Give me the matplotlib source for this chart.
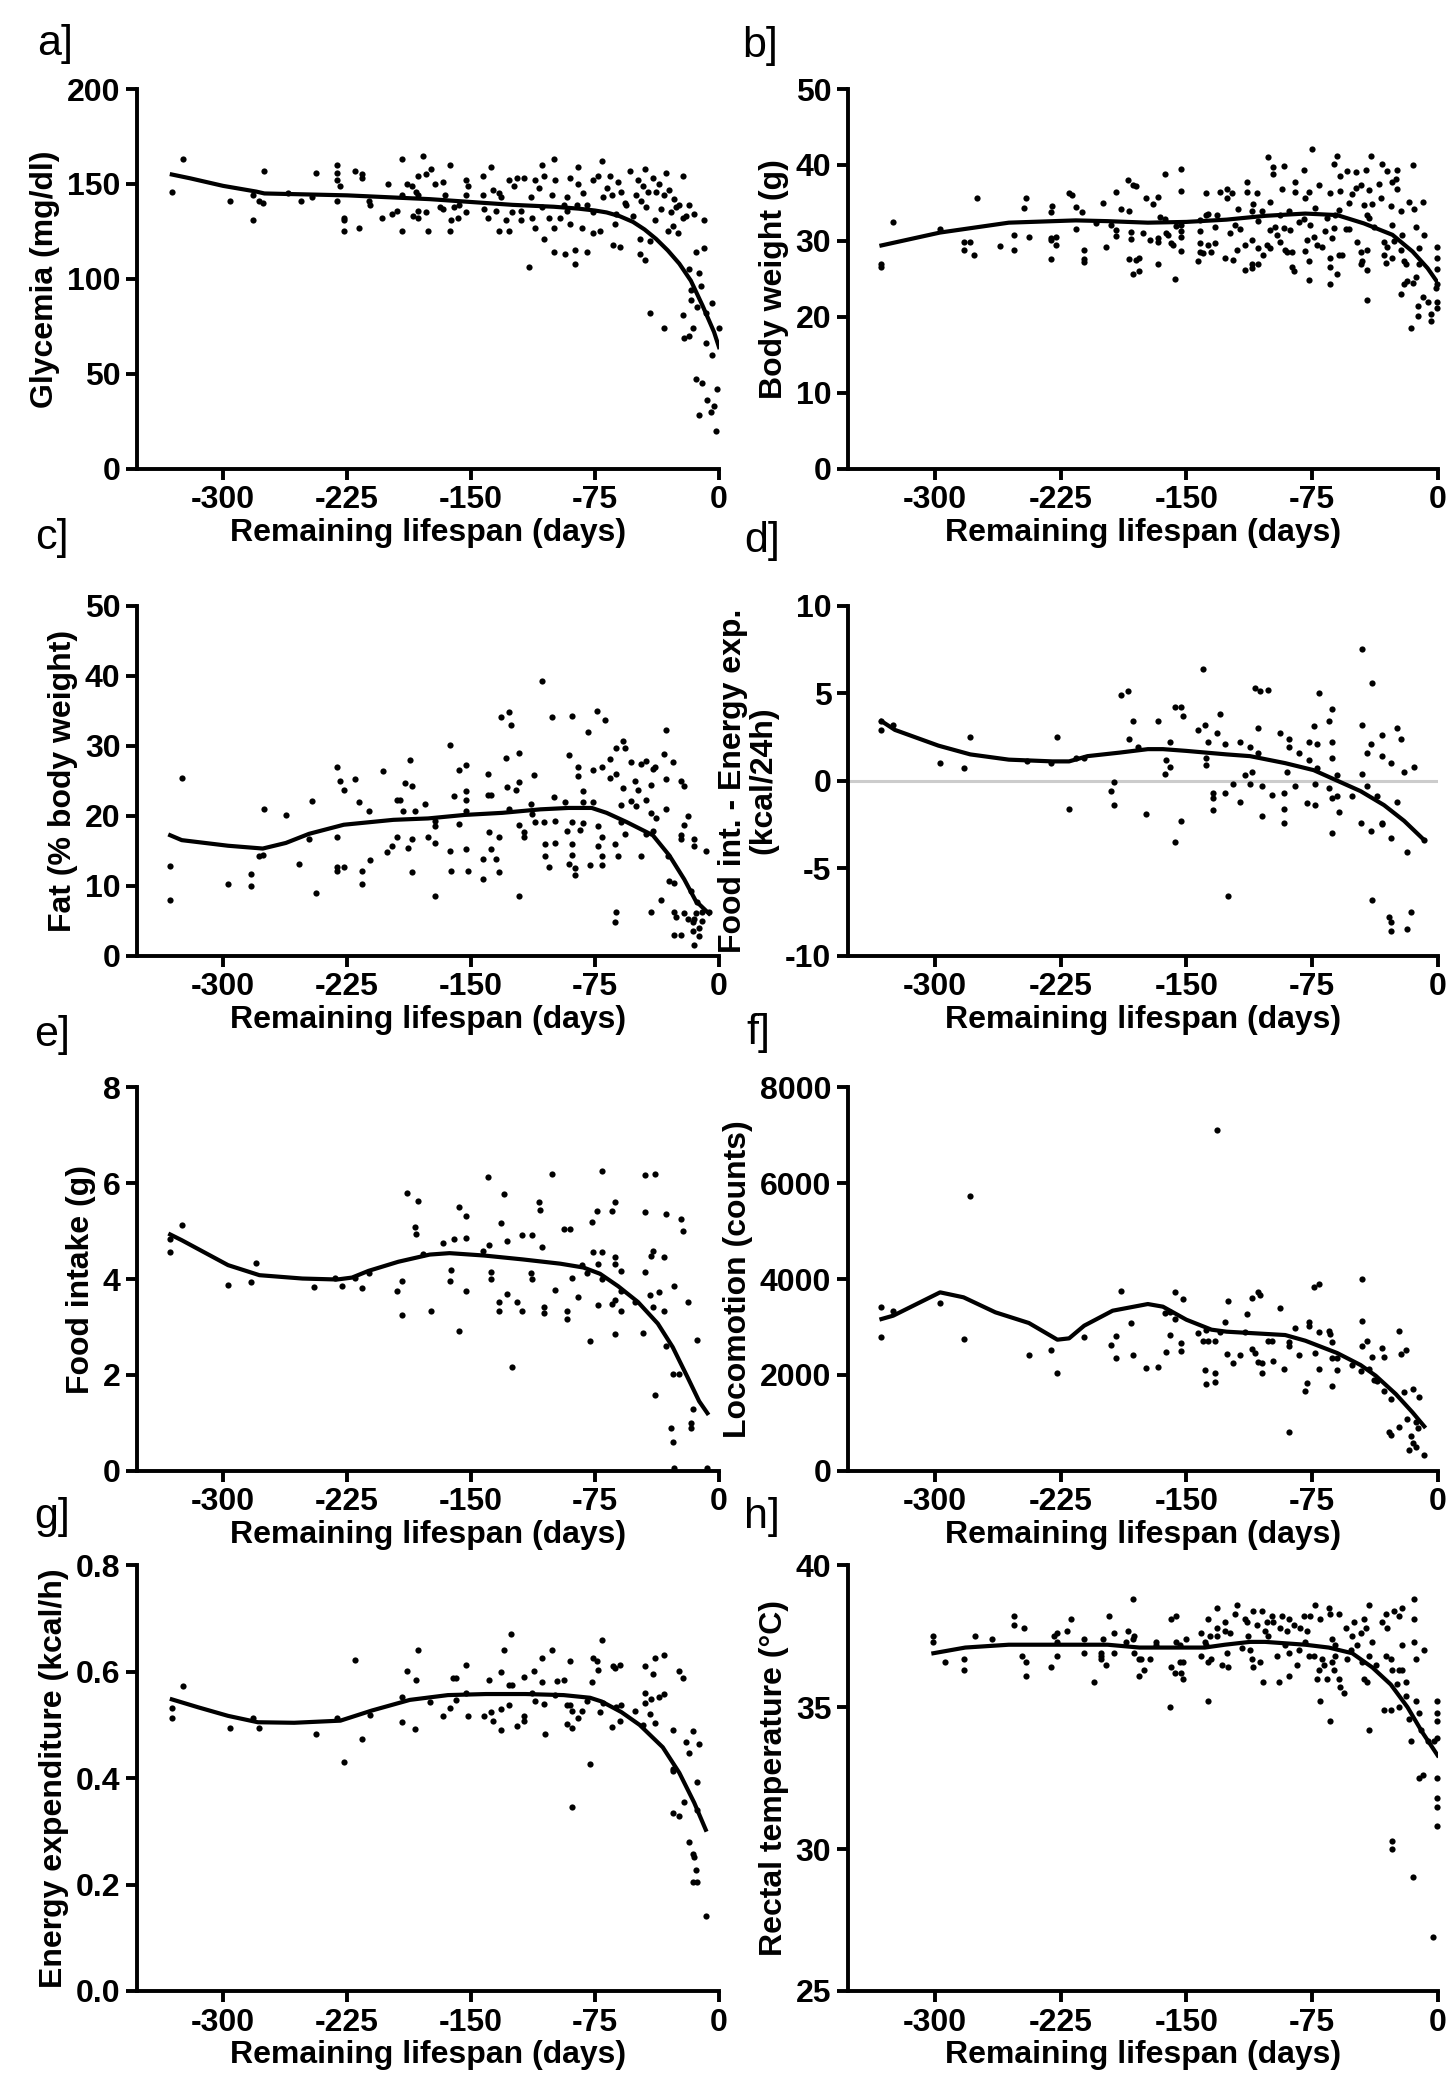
import matplotlib
matplotlib.use("Agg")
import matplotlib.pyplot as plt

plt.rcParams['font.family'] = ['Liberation Sans', 'DejaVu Sans']
plt.rcParams['font.weight'] = 'bold'
plt.rcParams['axes.labelweight'] = 'bold'
plt.rcParams['axes.unicode_minus'] = False

# x ticks shared by all panels
day_ticks = [-300, -225, -150, -75, 0]

# a] glycemia
glyc_pts = [(-331,146),(-324,163),(-296,141),(-282,144),(-282,131),(-278,141),(-276,140),(-275,157),(-261,145),(-253,141),
    (-246,143),(-244,156),(-231,160),(-231,156),(-231,152),(-229,149),(-231,141),(-227,132),(-227,131),(-227,125),(-220,157),
    (-218,127),(-216,155),(-216,153),(-212,141),(-211,139),(-204,132),(-200,150),(-198,134),(-195,136),(-192,163),(-192,144),
    (-192,125),(-189,150),(-186,149),(-185,133),(-183,146),(-182,154),(-182,144),(-182,136),(-182,132),(-179,165),(-177,155),
    (-177,135),(-176,125),(-174,158),(-172,150),(-169,138),(-167,151),(-167,137),(-166,144),(-163,160),(-163,125),(-162,131),
    (-160,138),(-158,132),(-157,139),(-153,152),(-153,144),(-153,135),(-152,149),(-143,154),(-143,144),(-142,137),(-140,132),
    (-138,159),(-137,147),(-135,136),(-133,145),(-133,125),(-132,143),(-129,131),(-127,152),(-127,125),(-125,135),(-124,149),
    (-122,153),(-120,131),(-120,136),(-118,153),(-115,106),(-114,143),(-113,132),(-111,152),(-111,127),(-109,148),(-107,160),
    (-107,138),(-106,121),(-106,154),(-103,132),(-101,144),(-100,163),(-100,127),(-100,114),(-99,152),(-96,132),(-94,139),
    (-93,113),(-92,143),(-92,136),(-90,153),(-90,129),(-87,108),(-87,115),(-86,139),(-85,159),(-85,150),(-83,127),(-82,145),
    (-80,114),(-80,139),(-76,152),(-76,124),(-76,135),(-73,154),(-72,125),(-71,162),(-70,143),(-66,154),(-65,144),(-64,118),
    (-63,129),(-62,134),(-60,117),(-59,146),(-57,140),(-54,157),(-52,133),(-50,144),(-48,113),(-48,121),(-46,149),(-45,158),
    (-45,110),(-44,138),(-43,146),(-42,120),(-42,82),(-40,153),(-39,131),(-33,144),(-33,74),(-32,156),(-31,125),(-29,135),
    (-28,128),(-26,138),(-25,124),(-24,139),(-22,154),(-22,81),(-22,132),(-21,69),(-20,133),(-18,105),(-18,139),(-17,94),
    (-17,89),(-16,74),(-15,134),(-14,114),(-13,85),(-12,103),(-11,96),(-9,116),(-9,131),(-8,82),(-4,87),(0,74),(-14,47),
    (-10,45),(-7,36),(-5,30),(-12,28),(-3,33),(-2,20),(-1,42),(-4,60),(-8,66),(-18,70),
    (-68,148),(-61,151),(-56,139),(-49,152),(-47,141),(-38,146),(-36,150),(-35,137),(-30,147),(-27,142)]
glyc_fit = [(-331,155),(-320,153),(-300,149),(-280,146),(-275,145),(-225,144),(-175,142),(-125,139),(-100,138),(-85,137),
    (-75,136),(-68,135),(-60,133),(-52,130),(-45,126),(-38,121),(-31,115),(-24,108),(-17,99),(-10,86),(-3,72),(0,64)]

# b] body weight
bw_pts = [(-332,26.9),(-332,26.6),(-325,32.5),(-297,31.6),(-283,29.9),(-283,28.8),(-279,29.8),(-277,28.2),(-275,35.7),
    (-261,29.3),(-253,30.8),(-253,28.8),(-247,34.3),(-246,35.7),(-244,30.5),(-231,33.8),(-231,30.4),(-231,30.1),(-231,27.6),
    (-230,34.6),(-228,30.5),(-228,29.5),(-220,36.3),(-218,36.1),(-216,31.5),(-216,34.4),(-212,33.8),(-211,28.8),(-211,27.6),
    (-211,27.2),(-204,32.3),(-200,35.0),(-198,29.2),(-195,32.1),(-192,36.5),(-192,31.4),(-192,30.6),(-189,34.2),(-185,38.0),
    (-184,27.6),(-184,34.0),(-183,31.2),(-183,30.2),(-182,37.3),(-180,37.2),(-180,27.5),(-178,27.7),(-182,25.6),(-178,26.0),
    (-176,31.0),(-174,35.6),(-172,30.1),(-170,34.8),(-167,35.8),(-167,30.4),(-167,29.9),(-167,26.9),(-166,33.1),(-163,38.8),
    (-163,32.9),(-162,31.0),(-161,30.8),(-159,29.7),(-158,29.5),(-157,25.0),(-156,32.0),(-153,39.5),(-153,36.6),(-153,32.1),
    (-153,31.3),(-153,30.5),(-153,28.7),(-143,27.3),(-142,32.7),(-142,31.3),(-142,29.7),(-142,28.6),(-140,28.4),(-138,36.3),
    (-138,33.4),(-137,33.6),(-137,29.5),(-135,28.6),(-133,29.7),(-133,31.8),(-132,33.4),(-130,36.5),(-127,27.8),(-126,35.7),
    (-126,36.9),(-124,31.0),(-123,36.3),(-122,27.5),(-121,32.1),(-120,28.8),(-119,34.2),(-118,31.6),(-115,26.1),(-115,29.5),
    (-114,37.8),(-114,36.5),(-111,34.0),(-111,26.4),(-111,30.1),(-111,26.9),(-110,34.9),(-108,36.3),(-107,32.6),(-107,29.1),
    (-107,26.9),(-105,33.9),(-104,28.2),(-102,29.5),(-101,41.0),(-100,35.1),(-100,31.4),(-100,29.1),(-98,39.7),(-98,38.8),
    (-97,31.8),(-96,30.8),(-94,33.4),(-94,29.9),(-93,36.9),(-92,39.9),(-92,31.7),(-91,28.8),(-90,28.6),(-89,34.0),(-88,31.4),
    (-87,28.5),(-87,26.6),(-86,26.0),(-85,37.8),(-85,36.4),(-83,32.5),(-80,39.3),(-80,32.9),(-79,28.7),(-79,35.6),(-78,30.1),
    (-77,36.5),(-77,27.3),(-77,24.8),(-76,32.1),(-74,30.5),(-73,34.3),(-72,29.5),(-71,37.3),(-75,42.1),(-69,29.2),(-67,31.3),
    (-66,33.0),(-64,36.3),(-64,24.3),(-64,27.7),(-64,26.5),(-63,30.4),(-62,40.1),(-62,31.7),(-61,33.4),(-60,41.2),(-60,25.6),
    (-59,28.2),(-59,34.1),(-58,38.6),(-58,36.6),(-57,28.2),(-55,31.5),(-54,39.2),(-53,31.5),(-53,35.0),(-51,36.2),(-49,39.1),
    (-49,37.0),(-48,29.9),(-46,26.9),(-46,28.6),(-46,37.3),(-45,27.4),(-44,34.7),(-43,39.4),(-42,33.4),(-42,28.8),(-42,26.2),
    (-42,22.2),(-41,36.7),(-41,33.0),(-40,41.2),(-39,34.9),(-38,31.8),(-35,37.5),(-34,35.7),(-33,40.1),(-32,29.9),(-32,28.2),
    (-31,27.1),(-30,39.2),(-30,29.2),(-28,34.6),(-27,27.7),(-27,37.8),(-27,32.1),(-26,30.0),(-25,38.1),(-24,39.3),(-24,36.8),
    (-22,28.8),(-22,23.0),(-22,34.0),(-21,30.8),(-20,24.3),(-20,27.3),(-19,26.9),(-18,24.7),(-17,35.1),(-16,18.5),(-15,24.5),
    (-15,40.0),(-14,34.2),(-13,31.8),(-13,25.3),(-12,21.4),(-12,20.1),(-11,29.0),(-11,26.9),(-9,22.6),(-9,35.1),(-8,30.8),
    (-6,21.9),(-4,19.5),(-4,20.4),(-1,23.8),(-0.5,29.2),(-0.5,27.8),(-0.5,26.3),(-0.5,24.3),(-0.5,22.0),(-0.5,21.2)]
bw_fit = [(-332,29.4),(-297,31.1),(-256,32.4),(-216,32.7),(-197,32.6),(-173,32.4),(-150,32.5),(-126,32.8),(-103,33.3),
    (-79,33.6),(-60,33.4),(-44,32.3),(-27,30.8),(-15,28.6),(-6,26.4),(0,24.5)]

# c] fat
fat_pts = [(-332,12.8),(-332,8.0),(-325,25.4),(-297,10.2),(-283,11.7),(-283,9.9),(-278,14.3),(-276,14.4),(-275,21.0),
    (-262,20.1),(-254,13.1),(-248,16.7),(-246,22.1),(-244,8.9),(-231,26.9),(-231,17.0),(-231,12.7),(-231,12.1),(-229,25.0),
    (-227,23.6),(-227,12.6),(-220,25.3),(-218,22.0),(-216,12.1),(-216,10.3),(-212,20.7),(-211,13.6),(-203,26.4),(-201,14.8),
    (-198,15.6),(-195,17.0),(-195,22.3),(-193,22.3),(-191,20.7),(-190,24.7),(-188,15.4),(-187,28.0),(-186,24.3),(-186,16.7),
    (-186,12.0),(-184,20.7),(-178,21.7),(-176,17.0),(-172,19.3),(-172,18.5),(-172,16.1),(-172,8.5),(-163,30.1),(-163,15.0),
    (-162,12.1),(-160,22.8),(-157,26.5),(-157,18.8),(-153,27.3),(-153,23.5),(-153,22.2),(-153,20.7),(-153,15.2),(-152,12.1),
    (-143,13.8),(-143,11.0),(-140,25.9),(-140,23.0),(-139,17.6),(-138,23.0),(-138,15.2),(-135,13.8),(-133,17.0),(-133,12.0),
    (-132,34.1),(-129,28.2),(-128,24.1),(-127,34.8),(-127,20.9),(-126,33.0),(-123,23.7),(-121,29.0),(-121,24.8),(-121,18.7),
    (-121,8.5),(-118,17.6),(-118,16.9),(-114,21.7),(-113,20.2),(-112,25.8),(-111,19.1),(-107,39.2),(-106,19.1),(-105,15.9),
    (-105,14.3),(-103,12.6),(-101,34.1),(-100,22.6),(-99,19.2),(-99,16.1),(-93,22.0),(-92,17.8),(-91,28.7),(-91,13.1),
    (-89,34.3),(-89,19.1),(-89,15.9),(-89,14.4),(-87,12.5),(-87,11.5),(-85,26.9),(-85,25.7),(-84,18.0),(-82,23.5),(-82,22.0),
    (-82,18.9),(-79,32.0),(-78,12.9),(-76,26.5),(-76,22.0),(-74,35.0),(-73,18.5),(-73,15.7),(-71,27.0),(-71,17.0),(-71,14.2),
    (-71,13.0),(-69,33.7),(-66,25.4),(-66,28.1),(-63,15.9),(-63,4.8),(-62,29.6),(-62,6.3),(-62,26.0),(-61,14.3),(-59,21.5),
    (-59,19.1),(-58,30.6),(-58,24.0),(-57,29.6),(-57,17.4),(-53,27.6),(-53,22.1),(-51,24.9),(-50,21.4),(-49,23.6),(-47,27.4),
    (-47,14.3),(-44,22.2),(-44,27.8),(-44,17.4),(-41,24.4),(-41,20.4),(-41,6.3),(-40,17.8),(-40,26.7),(-39,26.9),(-38,19.6),
    (-35,8.0),(-33,28.8),(-32,25.3),(-32,20.9),(-32,32.2),(-31,14.3),(-30,10.7),(-28,27.7),(-27,6.3),(-27,3.0),(-27,10.4),
    (-26,5.5),(-23,3.0),(-23,24.9),(-23,17.2),(-23,16.7),(-21,24.3),(-21,6.1),(-21,18.7),(-19,5.2),(-19,20.0),(-17,9.3),
    (-16,4.8),(-16,3.5),(-15,1.5),(-15,15.6),(-15,16.6),(-15,5.2),(-14,6.1),(-13,7.6),(-12,4.0),(-12,2.8),(-10,5.0),(-10,6.3),
    (-8,14.9),(-6,6.3)]
fat_fit = [(-332,17.2),(-325,16.5),(-297,15.7),(-276,15.3),(-262,16.1),(-248,17.4),(-227,18.7),(-197,19.4),(-176,19.6),
    (-154,20.1),(-131,20.4),(-108,20.9),(-91,21.1),(-77,21.1),(-68,20.4),(-56,19.1),(-40,17.2),(-30,14.3),(-21,10.9),
    (-14,7.8),(-6,6.0)]

# d] food intake - energy expenditure
bal_pts = [(-332,2.9),(-332,3.4),(-325,3.2),(-297,1.0),(-283,0.7),(-279,2.5),(-245,1.1),(-231,1.0),(-227,2.5),(-220,-1.6),
    (-216,1.3),(-211,1.3),(-195,-0.6),(-193,-0.1),(-193,-1.4),(-189,4.9),(-185,5.1),(-184,2.4),(-182,3.4),(-179,1.9),
    (-174,-1.9),(-167,3.4),(-163,0.4),(-162,1.2),(-160,2.2),(-160,0.8),(-157,4.2),(-157,-3.5),(-153,4.2),(-153,-2.3),
    (-152,3.7),(-143,2.9),(-140,6.4),(-139,3.2),(-138,1.3),(-138,0.9),(-137,2.2),(-134,-0.7),(-134,-1.0),(-134,-1.7),
    (-132,2.7),(-130,3.8),(-127,-0.7),(-127,2.1),(-125,-6.6),(-122,-0.2),(-118,2.2),(-118,-1.2),(-115,0.3),(-112,1.9),
    (-111,0.5),(-112,-0.2),(-109,5.3),(-107,3.0),(-107,1.6),(-106,5.1),(-105,-2.0),(-105,-0.3),(-101,5.2),(-99,-0.8),
    (-94,2.7),(-92,-0.7),(-92,-1.6),(-92,-2.4),(-90,0.5),(-89,1.9),(-89,2.4),(-85,-0.3),(-83,1.6),(-78,-1.3),(-77,2.2),
    (-77,1.2),(-74,3.1),(-73,-0.2),(-73,-1.4),(-72,0.7),(-72,2.1),(-71,5.0),(-65,-0.4),(-65,3.4),(-63,-1.0),(-63,-3.0),
    (-63,4.1),(-63,2.2),(-63,1.3),(-60,0.3),(-60,-0.9),(-59,-1.8),(-51,-0.9),(-46,-2.4),(-45,7.5),(-45,3.2),(-45,0.4),
    (-42,1.6),(-42,-0.3),(-40,2.1),(-40,-2.9),(-39,5.6),(-39,-6.8),(-36,-0.9),(-33,2.6),(-33,1.4),(-33,-2.4),(-33,-2.5),
    (-29,-7.8),(-28,-3.3),(-28,1.0),(-28,-8.1),(-28,-8.6),(-24,-1.2),(-24,3.0),(-22,2.4),(-20,0.5),(-18,-4.1),(-18,-8.5),
    (-16,-7.5),(-14,0.8),(-8,-3.4)]
bal_fit = [(-332,3.4),(-324,2.9),(-298,2.0),(-279,1.5),(-256,1.2),(-230,1.1),(-220,1.1),(-209,1.4),(-190,1.6),(-173,1.8),
    (-164,1.8),(-150,1.7),(-126,1.5),(-112,1.4),(-91,1.0),(-74,0.6),(-60,0.0),(-46,-0.6),(-32,-1.4),(-20,-2.3),(-8,-3.4)]

# e] food intake
food_pts = [(-332,4.84),(-332,4.56),(-325,5.12),(-297,3.88),(-283,3.93),(-280,4.33),(-245,3.83),(-232,4.03),(-228,3.86),
    (-220,4.02),(-216,3.81),(-212,4.13),(-195,3.74),(-192,3.95),(-192,3.25),(-189,5.8),(-184,5.08),(-183,4.93),(-182,5.63),
    (-179,4.53),(-174,3.34),(-167,4.75),(-163,3.96),(-162,4.19),(-160,4.84),(-157,2.91),(-157,5.5),(-153,3.74),(-153,5.32),
    (-153,4.86),(-143,4.59),(-140,6.13),(-139,4.72),(-138,4.14),(-138,3.99),(-133,3.52),(-133,3.34),(-132,5.16),(-130,5.77),
    (-128,4.79),(-128,3.68),(-125,2.17),(-122,3.53),(-119,4.91),(-119,3.34),(-114,4.13),(-113,4.91),(-113,3.99),(-109,5.61),
    (-108,5.44),(-107,4.67),(-106,3.41),(-106,3.3),(-101,6.19),(-99,3.78),(-94,5.05),(-92,3.34),(-92,3.17),(-90,5.05),
    (-89,4.02),(-85,3.62),(-83,4.29),(-80,4.13),(-78,2.7),(-77,5.18),(-76,4.56),(-74,5.42),(-73,3.46),(-73,4.31),(-71,3.99),
    (-71,4.56),(-71,6.26),(-65,5.42),(-65,3.47),(-63,4.46),(-63,4.31),(-63,3.57),(-63,2.86),(-63,5.61),(-59,4.16),(-59,3.76),
    (-59,3.34),(-51,3.53),(-46,2.88),(-45,4.15),(-45,6.17),(-45,5.39),(-42,3.66),(-41,4.48),(-40,4.59),(-40,3.41),(-39,6.2),
    (-39,1.58),(-36,3.73),(-33,4.45),(-33,3.34),(-32,5.35),(-32,2.6),(-29,0.89),(-28,2.01),(-28,0.59),(-27,3.85),(-27,0.05),
    (-24,2.01),(-23,5.26),(-22,5.0),(-19,3.53),(-17,1.0),(-17,0.89),(-16,1.29),(-13,2.73),(-7,0.05)]
food_fit = [(-332,4.93),(-325,4.81),(-297,4.29),(-278,4.08),(-252,4.01),(-231,3.99),(-222,4.03),(-212,4.17),(-194,4.36),
    (-175,4.51),(-163,4.54),(-142,4.49),(-119,4.41),(-96,4.32),(-82,4.24),(-72,4.11),(-61,3.85),(-49,3.52),(-37,3.07),
    (-28,2.58),(-19,1.95),(-12,1.45),(-7,1.2)]

# f] locomotion
loco_pts = [(-332,3423),(-332,2797),(-325,3339),(-297,3492),(-283,2748),(-279,5740),(-244,2407),(-231,2525),(-227,2045),
    (-211,2783),(-195,2630),(-192,2811),(-192,2344),(-189,3743),(-183,3075),(-182,2407),(-174,2136),(-167,2171),(-163,3284),
    (-162,2470),(-160,3318),(-160,2838),(-157,3736),(-157,3165),(-153,2671),(-153,2504),(-152,3583),(-143,2873),(-140,2713),
    (-139,2101),(-138,2943),(-138,1802),(-137,2713),(-133,2713),(-133,2031),(-133,1843),(-132,7110),(-130,2887),(-127,3110),
    (-126,2435),(-125,3548),(-122,2247),(-118,2414),(-115,2901),(-114,3270),(-111,2539),(-111,3597),(-109,2449),(-107,3736),
    (-107,2275),(-106,3673),(-105,2038),(-105,2247),(-101,2713),(-99,2713),(-98,2289),(-94,3395),(-92,2122),(-89,2692),
    (-89,814),(-89,2609),(-85,2978),(-83,2414),(-79,1670),(-78,1830),(-77,3096),(-77,3012),(-74,3826),(-73,2456),(-71,2122),
    (-71,3903),(-71,2887),(-65,2922),(-64,2852),(-63,2678),(-63,2358),(-63,1760),(-60,2351),(-60,2108),(-51,2205),(-46,2080),
    (-45,4000),(-45,3130),(-45,2595),(-42,2713),(-41,2122),(-39,2379),(-38,1892),(-36,1865),(-33,2553),(-32,2379),(-32,1670),
    (-29,814),(-28,1489),(-28,744),(-23,2908),(-23,904),(-22,2435),(-20,1649),(-19,2525),(-18,1078),(-17,438),(-16,717),
    (-15,1704),(-15,577),(-13,1023),(-13,487),(-12,884),(-11,1530),(-8,327)]
loco_fit = [(-332,3165),(-325,3235),(-297,3722),(-283,3618),(-264,3305),(-244,3082),(-227,2734),(-220,2762),(-211,3026),
    (-194,3339),(-173,3478),(-164,3423),(-150,3151),(-135,2943),(-126,2901),(-112,2873),(-91,2831),(-79,2713),(-60,2456),
    (-46,2205),(-37,1983),(-25,1600),(-15,1217),(-8,925)]

# g] energy expenditure
ee_pts = [(-331,0.532),(-331,0.513),(-324,0.574),(-296,0.495),(-282,0.513),(-278,0.495),(-244,0.483),(-231,0.513),
    (-227,0.43),(-220,0.622),(-216,0.474),(-211,0.519),(-192,0.553),(-192,0.506),(-189,0.601),(-184,0.492),(-183,0.584),
    (-182,0.64),(-175,0.543),(-167,0.517),(-163,0.531),(-161,0.588),(-159,0.588),(-159,0.546),(-153,0.612),(-153,0.56),
    (-152,0.517),(-142,0.517),(-139,0.584),(-138,0.524),(-137,0.508),(-132,0.53),(-132,0.491),(-132,0.6),(-130,0.641),
    (-127,0.575),(-127,0.537),(-126,0.67),(-125,0.575),(-122,0.498),(-118,0.59),(-118,0.517),(-118,0.508),(-113,0.56),
    (-112,0.601),(-111,0.544),(-107,0.625),(-107,0.58),(-106,0.54),(-105,0.483),(-101,0.641),(-99,0.556),(-98,0.582),
    (-94,0.584),(-92,0.537),(-92,0.502),(-90,0.62),(-90,0.537),(-89,0.345),(-89,0.527),(-89,0.494),(-85,0.513),(-83,0.526),
    (-80,0.544),(-78,0.427),(-76,0.626),(-77,0.581),(-74,0.62),(-73,0.603),(-72,0.524),(-71,0.66),(-70,0.541),(-65,0.496),
    (-64,0.61),(-63,0.607),(-62,0.534),(-60,0.508),(-60,0.613),(-59,0.537),(-51,0.526),(-46,0.5),(-45,0.61),(-45,0.56),
    (-45,0.542),(-42,0.52),(-41,0.548),(-40,0.595),(-39,0.625),(-39,0.503),(-36,0.553),(-33,0.559),(-33,0.632),(-28,0.491),
    (-28,0.418),(-28,0.413),(-28,0.335),(-24,0.328),(-24,0.602),(-22,0.589),(-21,0.356),(-20,0.468),(-18,0.28),(-18,0.448),
    (-16,0.258),(-16,0.489),(-15,0.252),(-14,0.227),(-13,0.341),(-16,0.204),(-13,0.204),(-13,0.392),(-12,0.465),(-8,0.14)]
ee_fit = [(-331,0.548),(-315,0.533),(-297,0.517),(-279,0.505),(-257,0.504),(-229,0.508),(-210,0.527),(-187,0.547),
    (-164,0.556),(-141,0.558),(-117,0.558),(-94,0.556),(-78,0.551),(-71,0.544),(-59,0.524),(-48,0.5),(-34,0.458),
    (-24,0.41),(-15,0.354),(-8,0.303)]

# h] rectal temperature
temp_pts = [(-301,37.5),(-301,37.3),(-294,36.6),(-283,36.7),(-283,36.3),(-276,37.5),(-266,37.4),(-253,38.2),(-253,37.9),
    (-247,37.8),(-248,36.8),(-246,36.6),(-246,36.1),(-231,36.4),(-229,37.5),(-227,37.6),(-227,37.3),(-227,36.8),(-221,37.7),
    (-219,38.1),(-211,36.9),(-211,37.4),(-205,35.9),(-201,36.9),(-201,36.8),(-201,36.7),(-200,37.4),(-198,36.5),(-196,38.2),
    (-193,37.6),(-193,36.9),(-186,37.3),(-185,37.7),(-182,38.8),(-182,37.4),(-181,36.9),(-181,37.5),(-178,36.7),(-177,36.7),
    (-178,36.1),(-175,36.3),(-172,36.7),(-168,37.3),(-168,37.2),(-160,35.0),(-159,38.1),(-159,36.4),(-157,36.2),(-156,38.2),
    (-156,37.3),(-154,36.6),(-154,37.2),(-153,36.2),(-152,36.6),(-152,36.0),(-150,37.4),(-141,37.6),(-141,36.8),(-139,37.3),
    (-138,37.2),(-137,38.1),(-137,35.2),(-137,36.6),(-136,37.5),(-135,36.7),(-132,38.5),(-132,37.8),(-132,37.5),(-129,36.5),
    (-127,38.0),(-127,37.7),(-126,36.9),(-125,36.4),(-124,37.6),(-121,38.3),(-120,38.6),(-117,37.1),(-115,38.1),(-114,38.0),
    (-113,37.5),(-112,37.0),(-111,36.7),(-110,38.4),(-110,36.4),(-108,37.9),(-106,36.6),(-105,38.4),(-104,35.9),(-103,37.7),
    (-102,38.0),(-101,37.5),(-99,38.2),(-98,38.0),(-96,36.8),(-95,35.9),(-94,37.8),(-93,38.2),(-91,37.2),(-90,37.7),
    (-89,36.9),(-89,36.1),(-89,38.1),(-86,37.9),(-84,36.5),(-83,37.0),(-82,37.8),(-80,38.2),(-79,37.3),(-78,37.7),(-77,36.8),
    (-76,38.2),(-74,36.8),(-73,38.6),(-72,36.0),(-71,36.3),(-70,35.2),(-70,38.1),(-69,36.7),(-68,36.5),(-66,36.0),(-65,38.5),
    (-64,38.3),(-64,34.5),(-63,37.4),(-63,36.6),(-62,36.3),(-61,37.2),(-61,36.8),(-59,36.0),(-58,35.7),(-59,38.3),(-56,35.5),
    (-55,37.8),(-54,36.7),(-52,37.0),(-51,37.5),(-50,38.0),(-48,37.2),(-46,37.6),(-45,36.6),(-44,36.0),(-44,38.1),(-43,37.8),
    (-42,35.9),(-41,38.6),(-41,34.2),(-41,36.8),(-39,37.3),(-37,36.5),(-33,38.0),(-32,34.9),(-31,36.8),(-31,38.3),(-30,37.8),
    (-28,34.9),(-28,36.7),(-27,30.3),(-27,36.3),(-27,30.0),(-26,38.4),(-24,35.8),(-23,36.3),(-23,35.0),(-23,38.2),(-21,36.3),
    (-21,38.5),(-21,37.2),(-19,35.9),(-19,35.4),(-17,34.6),(-16,33.8),(-15,29.0),(-14,38.8),(-14,38.1),(-14,37.3),(-13,36.7),
    (-13,35.2),(-11,34.8),(-11,32.5),(-10,34.2),(-9,32.6),(-8,37.0),(-6,33.8),(-3,26.9),(-2,33.8),(-0.5,35.2),(-0.5,34.8),
    (-0.5,34.5),(-0.5,33.9),(-0.5,32.5),(-0.5,31.8),(-0.5,31.5),(-0.5,30.8)]
temp_fit = [(-301,36.9),(-282,37.1),(-256,37.2),(-221,37.2),(-197,37.2),(-178,37.1),(-168,37.1),(-150,37.1),(-139,37.1),
    (-127,37.2),(-112,37.3),(-103,37.3),(-79,37.2),(-65,37.1),(-51,36.9),(-39,36.4),(-28,35.8),(-18,35.0),(-9,34.1),(0,33.3)]

panels = [
    ("a]", glyc_pts, glyc_fit, (0, 200), [0, 50, 100, 150, 200], "Glycemia (mg/dl)", "{:.0f}"),
    ("b]", bw_pts, bw_fit, (0, 50), [0, 10, 20, 30, 40, 50], "Body weight (g)", "{:.0f}"),
    ("c]", fat_pts, fat_fit, (0, 50), [0, 10, 20, 30, 40, 50], "Fat (% body weight)", "{:.0f}"),
    ("d]", bal_pts, bal_fit, (-10, 10), [-10, -5, 0, 5, 10], "Food int. - Energy exp.\n(kcal/24h)", "{:.0f}"),
    ("e]", food_pts, food_fit, (0, 8), [0, 2, 4, 6, 8], "Food intake (g)", "{:.0f}"),
    ("f]", loco_pts, loco_fit, (0, 8000), [0, 2000, 4000, 6000, 8000], "Locomotion (counts)", "{:.0f}"),
    ("g]", ee_pts, ee_fit, (0, 0.8), [0, 0.2, 0.4, 0.6, 0.8], "Energy expenditure (kcal/h)", "{:.1f}"),
    ("h]", temp_pts, temp_fit, (25, 40), [25, 30, 35, 40], "Rectal temperature (\u00b0C)", "{:.0f}"),
]

# axes boxes [left, bottom, width, height] in figure fractions
col_x = [(0.0945, 0.401), (0.5844, 0.4064)]
row_y = [(0.7755, 0.1818), (0.5421, 0.1677), (0.2953, 0.1837), (0.046, 0.204)]
letter_pos = [(0.038, 0.979), (0.524, 0.978), (0.036, 0.742), (0.525, 0.741),
              (0.036, 0.504), (0.523, 0.505), (0.036, 0.273), (0.525, 0.273)]

fig = plt.figure(figsize=(14.51, 20.87), dpi=100)

for i, (letter, pts, fit, ylim, yticks, ylabel, fmt) in enumerate(panels):
    cx, cw = col_x[i % 2]
    ry, rh = row_y[i // 2]
    ax = fig.add_axes([cx, ry, cw, rh])

    xs, ys = zip(*pts)
    fx, fy = zip(*fit)
    if letter == "d]":
        ax.axhline(0, color="#cccccc", lw=2.2, zorder=1)
    ax.scatter(xs, ys, s=20, c="black", linewidths=0, clip_on=False, zorder=3)
    ax.plot(fx, fy, color="black", lw=3.0, zorder=4)

    ax.set_xlim(-352, 0)
    ax.set_ylim(*ylim)
    ax.set_xticks(day_ticks)
    ax.set_xticklabels([str(t) for t in day_ticks])
    ax.set_yticks(yticks)
    ax.set_yticklabels([fmt.format(t) for t in yticks])
    for side in ("top", "right"):
        ax.spines[side].set_visible(False)
    for side in ("left", "bottom"):
        ax.spines[side].set_linewidth(2.8)
    ax.tick_params(direction="out", length=8, width=2.8, labelsize=23, pad=4)
    ax.set_xlabel("Remaining lifespan (days)", fontsize=23, labelpad=2)
    ax.set_ylabel(ylabel, fontsize=23, labelpad=5, linespacing=1.0)

    lx, ly = letter_pos[i]
    fig.text(lx, ly, letter, fontsize=31, fontweight="normal", ha="center", va="center")

fig.savefig("out.png", dpi=100)
